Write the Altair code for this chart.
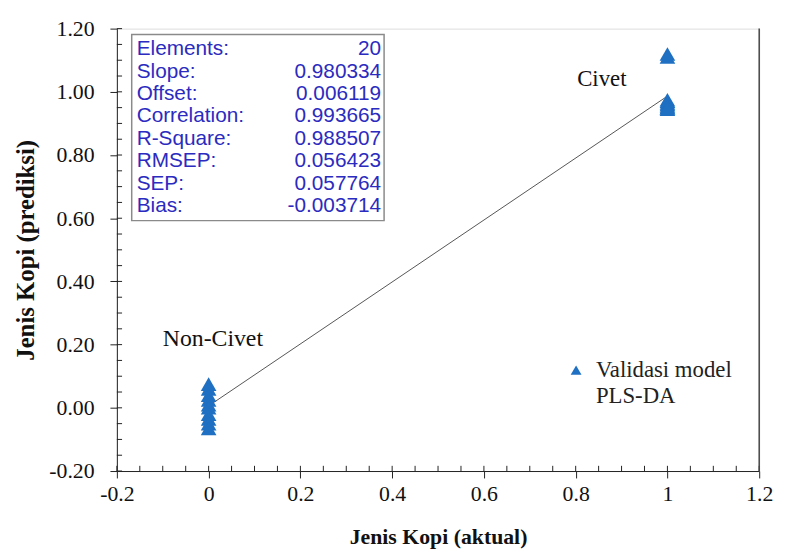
import altair as alt
import pandas as pd

# ---- data ----
actual_noncivet = [0, 0, 0, 0, 0, 0, 0, 0, 0, 0]
pred_noncivet = [0.075, 0.06, 0.04, 0.025, 0.01, 0.0, -0.02, -0.035, -0.05, -0.065]
actual_civet = [1, 1, 1, 1, 1, 1, 1, 1, 1, 1]
pred_civet = [1.12, 1.11, 0.975, 0.97, 0.965, 0.96, 0.955, 0.95, 0.95, 0.945]

slope = 0.980334
offset = 0.006119
line_x = [0, 1]

stat_labels = ["Elements:", "Slope:", "Offset:", "Correlation:", "R-Square:",
               "RMSEP:", "SEP:", "Bias:"]
stat_values = ["20", "0.980334", "0.006119", "0.993665", "0.988507",
               "0.056423", "0.057764", "-0.003714"]

x_ticks = [-0.2, 0, 0.2, 0.4, 0.6, 0.8, 1, 1.2]
y_ticks = [-0.2, 0.0, 0.2, 0.4, 0.6, 0.8, 1.0, 1.2]
minor_ticks = [round(-0.2 + 0.05 * i, 2) for i in range(29)]

W, H = 649, 447
SERIF = "Liberation Serif"
SANS = "Liberation Sans"
BLUE = "#1f70c2"

pts = pd.DataFrame({
    "aktual": actual_noncivet + actual_civet,
    "prediksi": pred_noncivet + pred_civet,
})
line_df = pd.DataFrame({"aktual": line_x,
                        "prediksi": [offset + slope * v for v in line_x]})

xscale = alt.Scale(domain=[-0.2, 1.2], nice=False, zero=False)
yscale = alt.Scale(domain=[-0.2, 1.2], nice=False, zero=False)

xaxis = alt.Axis(values=x_ticks,
                 labelExpr="replace(format(datum.value, '~g'), '\u2212', '-')",
                 title="Jenis Kopi (aktual)",
                 grid=False, tickSize=7, labelPadding=6, titlePadding=22,
                 labelFontSize=22, titleFontSize=22, labelFont=SERIF,
                 titleFont=SERIF, titleFontWeight="bold", labelColor="#111",
                 titleColor="#111", domainColor="#222", tickColor="#222",
                 labelFlush=False)
yaxis = alt.Axis(values=y_ticks,
                 labelExpr="replace(format(datum.value, '.2f'), '\u2212', '-')",
                 title="Jenis Kopi (prediksi)",
                 grid=False, tickSize=7, labelPadding=16, titlePadding=10,
                 labelFontSize=22, titleFontSize=25, labelFont=SERIF,
                 titleFont=SERIF, titleFontWeight="bold", labelColor="#111",
                 titleColor="#111", domainColor="#222", tickColor="#222",
                 labelFlush=False)

points = alt.Chart(pts).mark_point(shape="triangle-up", filled=True, size=250,
                                   color=BLUE, opacity=1).encode(
    x=alt.X("aktual:Q", scale=xscale, axis=xaxis),
    y=alt.Y("prediksi:Q", scale=yscale, axis=yaxis),
)

reg = alt.Chart(line_df).mark_line(color="#555", strokeWidth=1).encode(
    x="aktual:Q", y="prediksi:Q")

# inward minor ticks (every 0.05) on both axes, drawn as short stroke symbols
minor_df = pd.DataFrame({"v": minor_ticks})
ytick_in = alt.Chart(minor_df).mark_point(
    shape="M0,0H1", size=110, filled=False, stroke="#222", strokeWidth=1,
    opacity=1).encode(y="v:Q", x=alt.datum(-0.2))
xtick_in = alt.Chart(minor_df).mark_point(
    shape="M0,0V-1", size=110, filled=False, stroke="#222", strokeWidth=1,
    opacity=1).encode(x="v:Q", y=alt.datum(-0.2))

right_border = alt.Chart(pd.DataFrame({"a": [0]})).mark_rule(
    color="#444", strokeWidth=1.5).encode(
    x=alt.datum(1.2), y=alt.datum(-0.2), y2=alt.datum(1.2))

# stats box
box = alt.Chart(pd.DataFrame({"a": [0]})).mark_rect(
    fill="white", stroke="#8a8a8a", strokeWidth=1.5).encode(
    x=alt.value(15), x2=alt.value(270), y=alt.value(6), y2=alt.value(194))

stat_df = pd.DataFrame({"lab": ["\n".join(stat_labels)],
                        "val": ["\n".join(stat_values)]})
stat_lab = alt.Chart(stat_df).mark_text(
    align="left", baseline="middle", lineBreak="\n", lineHeight=22.6,
    font=SANS, fontSize=21, color="#2b2bc0").encode(
    x=alt.value(20), y=alt.value(21), text="lab:N")
stat_val = alt.Chart(stat_df).mark_text(
    align="right", baseline="middle", lineBreak="\n", lineHeight=22.6,
    font=SANS, fontSize=21, color="#2b2bc0").encode(
    x=alt.value(267), y=alt.value(21), text="val:N")

civet_lab = alt.Chart(pd.DataFrame({"t": ["Civet"]})).mark_text(
    font=SERIF, fontSize=23, color="#111").encode(
    x=alt.value(490), y=alt.value(51), text="t:N")
noncivet_lab = alt.Chart(pd.DataFrame({"t": ["Non-Civet"]})).mark_text(
    font=SERIF, fontSize=24, color="#111").encode(
    x=alt.value(97), y=alt.value(314), text="t:N")

leg_mark = alt.Chart(pd.DataFrame({"a": [0]})).mark_point(
    shape="triangle-up", filled=True, size=120, color=BLUE, opacity=1).encode(
    x=alt.value(464), y=alt.value(345))
leg_text = alt.Chart(pd.DataFrame({"t": ["Validasi model\nPLS-DA"]})).mark_text(
    align="left", baseline="middle", lineBreak="\n", lineHeight=26,
    font=SERIF, fontSize=23, color="#222").encode(
    x=alt.value(484), y=alt.value(345), text="t:N")

chart = alt.layer(
    reg, points, ytick_in, xtick_in, right_border, box, stat_lab, stat_val,
    civet_lab, noncivet_lab, leg_mark, leg_text
).properties(
    width=W, height=H, autosize="none",
    padding={"left": 110, "top": 18, "right": 19, "bottom": 81},
).configure_view(stroke="#c8c8c8", strokeWidth=1).configure(background="white")

chart.save("out.html", embed_options={"renderer": "svg", "actions": False})
